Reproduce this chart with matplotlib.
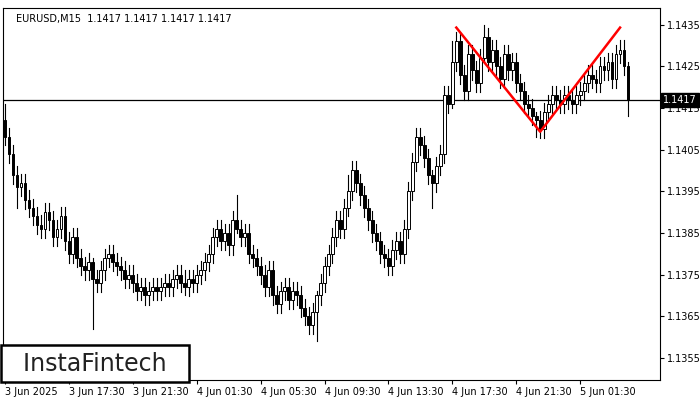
import matplotlib; matplotlib.use("Agg"); import matplotlib.pyplot as plt
from matplotlib.patches import Rectangle

# closes in pips above 1.1300
closes = [108,104,99,96,97,93,91,89,87,86,
          90,88,84,86,89,83,80,84,79,77,
          76,78,74,73,76,79,80,78,77,76,
          74,75,73,71,72,70,71,72,71,72,
          73,72,74,75,73,72,74,73,75,76,
          78,80,84,86,83,85,82,88,86,84,
          85,80,79,77,75,72,76,70,68,71,
          72,69,71,70,67,65,63,66,70,73,
          77,80,84,88,86,91,95,100,97,94,
          91,88,85,83,80,79,77,81,83,80,
          86,95,102,108,106,103,99,97,101,104,
          118,116,126,131,123,119,128,124,121,127,
          132,126,129,125,122,128,124,126,121,119,
          116,115,113,112,110,114,116,118,117,116,
          118,117,116,118,119,121,123,122,121,125,
          124,126,122,128,129,125,117]
first_open = 112
# extra wick length (pips) for some candles
long_wicks = {0: (4, 2), 3: (2, 5), 22: (1, 12), 45: (3, 2), 58: (6, 1), 78: (1, 7),
              86: (4, 2), 107: (1, 6), 112: (5, 1), 120: (3, 1), 133: (1, 4), 156: (1, 4)}
pattern_idx = [113, 134, 154]
pattern_px = [134.3, 109.3, 134.3]
tick_labels = ["3 Jun 2025", "3 Jun 17:30", "3 Jun 21:30", "4 Jun 01:30", "4 Jun 05:30",
               "4 Jun 09:30", "4 Jun 13:30", "4 Jun 17:30", "4 Jun 21:30", "5 Jun 01:30"]
price_ticks = [55, 65, 75, 85, 95, 105, 115, 125, 135]
last = 117

fig = plt.figure(figsize=(7, 4), dpi=100)
ax = fig.add_axes([3/700, 20/400, 657/700, 372/400])
opens = [first_open] + closes[:-1]
for i, (o, c) in enumerate(zip(opens, closes)):
    up, dn = long_wicks.get(i, (2.2, 2.2))
    hi, lo = max(o, c) + up, min(o, c) - dn
    ax.plot([i, i], [lo, hi], color="black", lw=0.8, zorder=2)
    h = max(abs(c - o), 0.3)
    ax.add_patch(Rectangle((i - 0.35, min(o, c)), 0.7, h, lw=0.7, edgecolor="black",
                           facecolor="white" if c >= o else "black", zorder=3))

ax.axhline(last, color="black", lw=0.9, zorder=1)
ax.plot(pattern_idx, pattern_px, color="red", lw=1.8, zorder=4)
ax.set_xlim(-0.5, 164)
ax.set_ylim(49.7, 139)
ax.yaxis.tick_right()
ax.set_yticks(price_ticks)
ax.set_yticklabels([f"{1.13 + p/10000:.4f}" for p in price_ticks], fontsize=7)
ax.set_xticks(range(0, 160, 16))
ax.set_xticklabels(tick_labels, fontsize=7, ha="left")
ax.tick_params(length=3, pad=2)
for s in ax.spines.values():
    s.set_linewidth(0.8)
ax.text(0.02, 0.985, "EURUSD,M15  1.1417 1.1417 1.1417 1.1417", transform=ax.transAxes,
        fontsize=7, va="top")
ax.text(1.005, last, "1.1417", transform=ax.get_yaxis_transform(), fontsize=7, color="white",
        va="center", ha="left", bbox=dict(facecolor="black", edgecolor="black", pad=1.5))
ax.text(0.008, 0.012, "  InstaFintech  ", transform=ax.transAxes, fontsize=17, va="bottom",
        color="#222222", bbox=dict(facecolor="white", edgecolor="black", lw=1.8, pad=5))
fig.savefig("out.png")
